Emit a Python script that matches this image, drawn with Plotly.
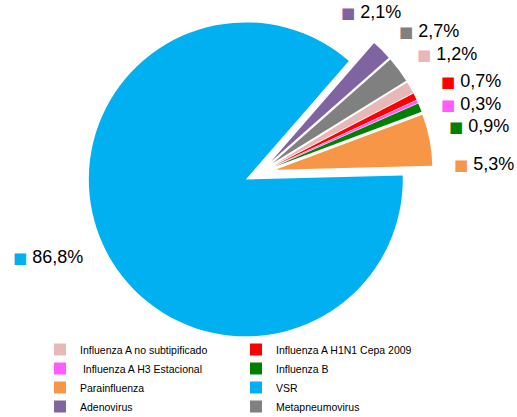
import plotly.graph_objects as go

# Virus categories in legend order, with their share of positive samples (%)
labels = [
    "Influenza A no subtipificado",
    "Influenza A H1N1 Cepa 2009",
    " Influenza A H3 Estacional",
    "Influenza B",
    "Parainfluenza",
    "VSR",
    "Adenovirus",
    "Metapneumovirus",
]
values = [1.2, 0.7, 0.3, 0.9, 5.3, 86.8, 2.1, 2.7]
colors = ["#E6B9B8", "#FF0000", "#FF5CFF", "#008000", "#F79646", "#00B0F0", "#8064A2", "#808080"]

# Where each percentage label sits (left edge x, middle y, in pixels)
label_pos = [(415, 54), (439, 81), (439, 104), (447, 126), (452, 164), (11, 257), (339, 12), (397, 31)]

W, H = 517, 417

def fmt(v):
    return f"{v:.1f}".replace(".", ",") + "%"

fig = go.Figure(go.Pie(
    labels=labels,
    values=values,
    marker=dict(colors=colors, line=dict(width=0)),
    sort=False,
    direction="clockwise",
    rotation=58.3,
    pull=[0.1] * len(values),
    textinfo="none",
    hoverinfo="label+percent",
    domain=dict(x=[0.1689, 0.8369], y=[0.1717, 1.0]),
))

for v, c, (px, py) in zip(values, colors, label_pos):
    fig.add_annotation(
        x=px / W, y=1 - py / H, xref="paper", yref="paper",
        xanchor="left", yanchor="middle", showarrow=False,
        text=f"<span style='color:{c};font-family:DejaVu Sans;font-size:15px'>■</span> {fmt(v)}",
        font=dict(family="Liberation Sans", size=18, color="#000000"),
    )

fig.update_layout(
    width=W, height=H,
    margin=dict(l=0, r=0, t=0, b=0, autoexpand=False),
    paper_bgcolor="white",
    plot_bgcolor="white",
    showlegend=True,
    legend=dict(
        orientation="h",
        x=40 / W, xanchor="left",
        y=1 - 335 / H, yanchor="top",
        entrywidth=151, entrywidthmode="pixels",
        font=dict(family="Liberation Sans", size=10.5, color="#000000"),
        traceorder="normal",
        bgcolor="rgba(0,0,0,0)",
    ),
)

fig.write_html("out.html")
